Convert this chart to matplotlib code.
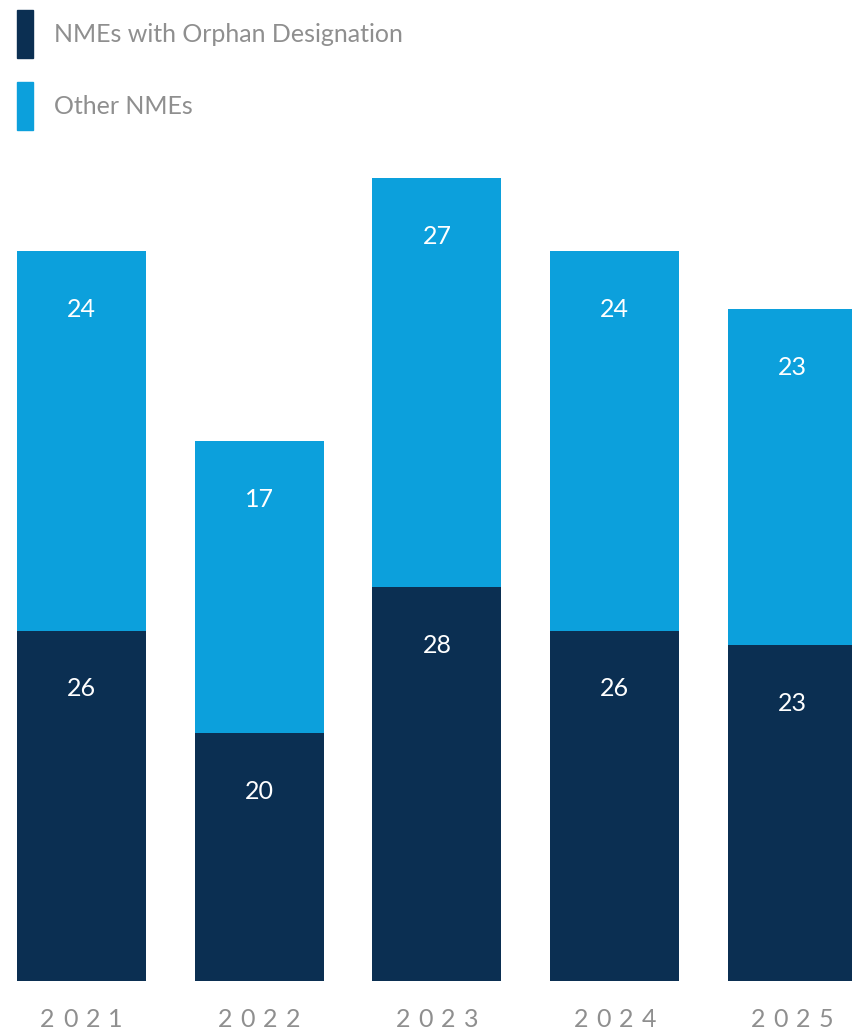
import matplotlib.pyplot as plt
from matplotlib.patches import Rectangle

years = ['2021', '2022', '2023', '2024', '2025']
orphan_labels = [26, 20, 28, 26, 23]
other_labels = [24, 17, 27, 24, 23]
# segment heights as drawn in the picture (they follow the other series' value)
orphan_heights = [24, 17, 27, 24, 23]
other_heights = [26, 20, 28, 26, 23]

dark = '#0b2f52'
light = '#0ca0dc'
grey = '#8f8f8f'

plt.rcParams['font.family'] = ['Lato', 'DejaVu Sans']

fig = plt.figure(figsize=(8.52, 10.32), dpi=100)
W, H = 852, 1032
ax = fig.add_axes([0, 1 - 981 / H, 1, (981 - 150) / H])

x = list(range(len(years)))
ax.bar(x, orphan_heights, width=0.726, color=dark)
ax.bar(x, other_heights, bottom=orphan_heights, width=0.726, color=light)

ax.set_xlim(-81.5 / 177.7, (852 - 81.5) / 177.7)
ax.set_ylim(0, (981 - 150) / 14.6)
ax.axis('off')

for i in x:
    ax.annotate(str(orphan_labels[i]), (i, orphan_heights[i]), xytext=(0, -42),
                textcoords='offset points', ha='center', va='center',
                color='white', fontsize=18)
    ax.annotate(str(other_labels[i]), (i, orphan_heights[i] + other_heights[i]),
                xytext=(0, -42), textcoords='offset points', ha='center',
                va='center', color='white', fontsize=18)
    # letter-spaced year label under each bar
    n = len(years[i])
    for j, ch in enumerate(years[i]):
        ax.annotate(ch, (i, 0), xytext=((j - (n - 1) / 2) * 16.3, -28),
                    textcoords='offset points', ha='center', va='center',
                    color=grey, fontsize=18, annotation_clip=False)

# legend
legend_items = [('NMEs with Orphan Designation', dark, 10),
                ('Other NMEs', light, 82)]
for label, col, top in legend_items:
    fig.patches.append(Rectangle((17 / W, 1 - (top + 48) / H), 16 / W, 48 / H,
                                 color=col, transform=fig.transFigure))
    fig.text(54 / W, 1 - (top + 25) / H, label, color=grey, fontsize=18,
             va='center', ha='left')

fig.savefig('out.png', dpi=100)
